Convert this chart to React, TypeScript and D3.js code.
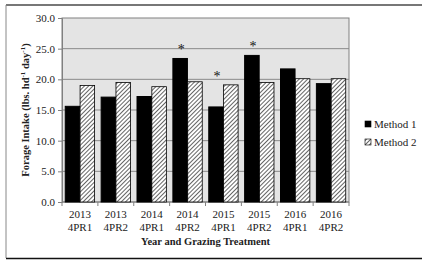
import { useRef, useEffect } from "react";
import * as d3 from "d3";

const years = ["2013", "2013", "2014", "2014", "2015", "2015", "2016", "2016"];
const treatments = ["4PR1", "4PR2", "4PR1", "4PR2", "4PR1", "4PR2", "4PR1", "4PR2"];
const method1 = [15.6, 17.1, 17.2, 23.4, 15.5, 23.9, 21.7, 19.3];
const method2 = [19.0, 19.5, 18.8, 19.6, 19.1, 19.5, 20.1, 20.1];
const starred = [false, false, false, true, true, true, false, false];
const yTicks = [0, 5, 10, 15, 20, 25, 30];
const seriesNames = ["Method 1", "Method 2"];

export default function App() {
  const ref = useRef<SVGSVGElement | null>(null);

  useEffect(() => {
    if (!ref.current) return;
    const svg = d3.select(ref.current);
    svg.selectAll("*").remove();
    const font = "'Liberation Serif', 'DejaVu Serif', serif";

    const margin = { top: 18, left: 62, right: 73, bottom: 60 };
    const W = 422, H = 262;
    const x0 = margin.left, x1 = W - margin.right, yTop = margin.top, yBot = H - margin.bottom;

    // hatch pattern
    const defs = svg.append("defs");
    const pat = defs.append("pattern").attr("id", "hatch").attr("patternUnits", "userSpaceOnUse")
      .attr("width", 3).attr("height", 3).attr("patternTransform", "rotate(45)");
    pat.append("rect").attr("width", 3).attr("height", 3).attr("fill", "#fff");
    pat.append("line").attr("x1", 0).attr("y1", 0).attr("x2", 0).attr("y2", 3)
      .attr("stroke", "#111").attr("stroke-width", 1.3);

    // outer frame
    svg.append("line").attr("x1", 6).attr("x2", W).attr("y1", 5).attr("y2", 5).attr("stroke", "#777").attr("stroke-width", 2);
    svg.append("line").attr("x1", 6).attr("x2", 6).attr("y1", 5).attr("y2", 258).attr("stroke", "#888").attr("stroke-width", 1);
    svg.append("line").attr("x1", 6).attr("x2", W).attr("y1", 258.5).attr("y2", 258.5).attr("stroke", "#111").attr("stroke-width", 1.5);

    const idx = d3.range(method1.length);
    const x = d3.scaleBand<number>().domain(idx).range([x0, x1]).paddingInner(0).paddingOuter(0);
    const y = d3.scaleLinear().domain([0, 30]).range([yBot, yTop]);
    const inner = d3.scaleBand<number>().domain([0, 1]).range([0, x.bandwidth()]).paddingOuter(0.22).paddingInner(0.02);

    svg.append("rect").attr("x", x0).attr("y", yTop).attr("width", x1 - x0).attr("height", yBot - yTop)
      .attr("fill", "#e4e4e4").attr("stroke", "#808080").attr("stroke-width", 1);

    // gridlines
    svg.append("g").selectAll("line").data(yTicks.slice(1, -1)).join("line")
      .attr("x1", x0).attr("x2", x1).attr("y1", d => y(d)).attr("y2", d => y(d))
      .attr("stroke", "#8a8a8a").attr("stroke-width", 1);

    // y axis
    const yAxis = svg.append("g").attr("transform", `translate(${x0},0)`)
      .call(d3.axisLeft(y).tickValues(yTicks).tickSize(4).tickFormat(d3.format(".1f")));
    yAxis.select(".domain").attr("stroke", "#808080");
    yAxis.selectAll(".tick line").attr("stroke", "#808080");
    yAxis.selectAll("text").attr("font-family", font).attr("font-size", 11).attr("fill", "#222").attr("x", -7);

    // x axis line and ticks at category boundaries
    svg.append("line").attr("x1", x0).attr("x2", x1).attr("y1", yBot).attr("y2", yBot).attr("stroke", "#808080");
    svg.append("g").selectAll("line").data(d3.range(method1.length + 1)).join("line")
      .attr("x1", d => x0 + d * x.step()).attr("x2", d => x0 + d * x.step())
      .attr("y1", yBot).attr("y2", yBot + 4).attr("stroke", "#808080");

    const bars = svg.append("g");
    bars.selectAll("rect.m1").data(idx).join("rect").attr("class", "m1")
      .attr("x", i => x(i)! + inner(0)!).attr("width", inner.bandwidth())
      .attr("y", i => y(method1[i])).attr("height", i => y(0) - y(method1[i]))
      .attr("fill", "#000").attr("stroke", "#000");
    bars.selectAll("rect.m2").data(idx).join("rect").attr("class", "m2")
      .attr("x", i => x(i)! + inner(1)!).attr("width", inner.bandwidth())
      .attr("y", i => y(method2[i])).attr("height", i => y(0) - y(method2[i]))
      .attr("fill", "url(#hatch)").attr("stroke", "#000").attr("stroke-width", 0.8);

    // significance asterisks
    svg.append("g").selectAll("text").data(idx.filter(i => starred[i])).join("text")
      .attr("x", i => x(i)! + inner(0)! + inner.bandwidth() / 2 + 1)
      .attr("y", i => y(Math.max(method1[i], method2[i])) - 4)
      .attr("text-anchor", "middle").attr("font-family", font).attr("font-size", 14).attr("fill", "#111")
      .text("*");

    // x labels
    const xl = svg.append("g").selectAll("text").data(idx).join("text")
      .attr("x", i => x(i)! + x.bandwidth() / 2).attr("text-anchor", "middle")
      .attr("font-family", font).attr("font-size", 11).attr("fill", "#222");
    xl.append("tspan").attr("x", i => x(i)! + x.bandwidth() / 2).attr("y", 218).text(i => years[i]);
    xl.append("tspan").attr("x", i => x(i)! + x.bandwidth() / 2).attr("y", 231).text(i => treatments[i]);

    svg.append("text").attr("x", (x0 + x1) / 2).attr("y", 245).attr("text-anchor", "middle")
      .attr("font-family", font).attr("font-size", 10.5).attr("font-weight", "bold").attr("fill", "#222")
      .text("Year and Grazing Treatment");

    const yt = svg.append("text").attr("transform", `translate(29,${(yTop + yBot) / 2}) rotate(-90)`)
      .attr("text-anchor", "middle").attr("font-family", font).attr("font-size", 10.5).attr("font-weight", "bold").attr("fill", "#222");
    yt.append("tspan").text("Forage Intake (lbs. hd");
    yt.append("tspan").attr("dy", -4).attr("font-size", 7).text("-1");
    yt.append("tspan").attr("dy", 4).text(" day");
    yt.append("tspan").attr("dy", -4).attr("font-size", 7).text("-1");
    yt.append("tspan").attr("dy", 4).text(")");

    // legend
    const lg = svg.append("g").selectAll("g").data(seriesNames).join("g")
      .attr("transform", (_, i) => `translate(365,${122 + i * 18})`);
    lg.append("rect").attr("width", 6).attr("height", 6).attr("y", -1)
      .attr("fill", (_, i) => (i === 0 ? "#000" : "url(#hatch)")).attr("stroke", "#000").attr("stroke-width", 0.6);
    lg.append("text").attr("x", 9).attr("y", 6).attr("font-family", font).attr("font-size", 11).attr("fill", "#222")
      .text(d => d);
  }, []);

  return (
    <svg ref={ref} width={422} height={262}
      style={{ position: "absolute", left: 0, top: 0, background: "#fff" }} />
  );
}
